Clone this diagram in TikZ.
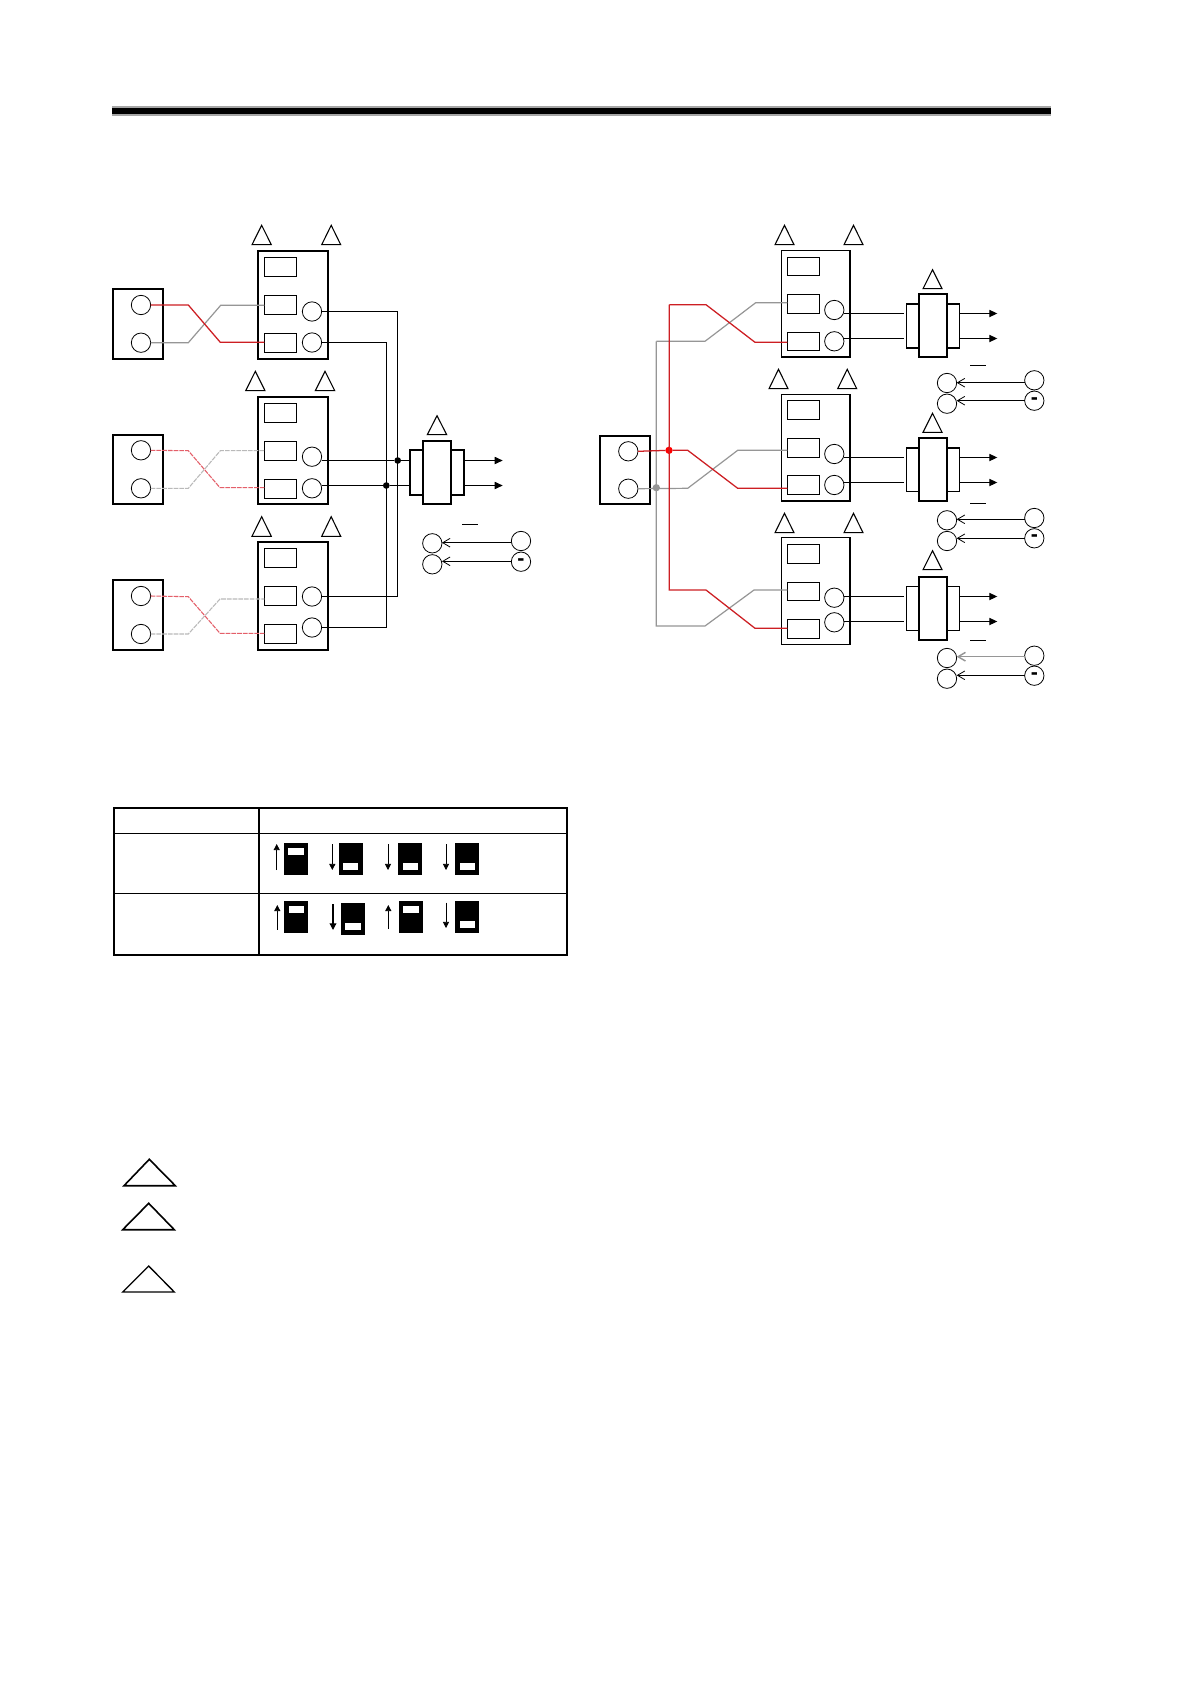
\documentclass[tikz,border=0pt]{standalone}
\usepackage{fontspec}
\setmainfont{Liberation Sans}
\usetikzlibrary{arrows.meta}
\definecolor{wred}{RGB}{205,30,35}
\definecolor{wgray}{RGB}{150,150,150}
\definecolor{dred}{RGB}{228,95,105}
\definecolor{dgray}{RGB}{185,185,185}
\tikzset{
  x=0.75pt,y=-0.75pt,
  boxthick/.style={draw,line width=1.3pt,inner sep=0,outer sep=0,fill=white},
  boxmid/.style={draw,line width=1.15pt,inner sep=0,outer sep=0,fill=white},
  boxthin/.style={draw,line width=0.75pt,inner sep=0,outer sep=0,fill=white},
  swblack/.style={fill=black,inner sep=0,outer sep=0},
  swwhite/.style={fill=white,inner sep=0,outer sep=0},
  term/.style={circle,draw,line width=0.6pt,minimum size=14.5pt,inner sep=0,outer sep=0},
  dotk/.style={circle,fill=black,minimum size=5pt,inner sep=0,outer sep=0},
  dotr/.style={circle,fill=red,minimum size=5.5pt,inner sep=0,outer sep=0},
  dotg/.style={circle,fill=wgray,minimum size=5.5pt,inner sep=0,outer sep=0},
  tria/.style={draw,line width=0.8pt,line join=miter},
  wire/.style={line width=0.8pt},
  redw/.style={wred,line width=0.95pt},
  grayw/.style={wgray,line width=0.9pt},
  dashr/.style={dred,line width=0.8pt,dash pattern=on 3.5pt off 0.8pt},
  dashg/.style={dgray,line width=0.8pt,dash pattern=on 3.5pt off 0.8pt},
  outarrow/.style={wire,-{Triangle[length=6pt,width=5.4pt]}},
  feed/.style={line width=0.6pt,-{Straight Barb[length=5.5pt,width=6.5pt]}},
  swup/.style={line width=0.6pt,-{Triangle[length=4.6pt,width=4.6pt]}},
  swupb/.style={line width=0.9pt,-{Triangle[length=5pt,width=5pt]}},
  minusmark/.style={inner sep=0,outer sep=0,font=\fontsize{16}{16}\selectfont\bfseries},
  tabline/.style={line width=0.75pt},
  tabthick/.style={line width=1.4pt},
}
\newcommand{\ubox}[6]{\node[#6,minimum width={(#4-#2)*0.75pt},minimum height={(#5-#3)*0.75pt}] (#1) at ({(#2+#4)/2},{(#3+#5)/2}) {};}
\newcommand{\ucirc}[3]{\node[term] (#1) at (#2,#3) {};}
\newcommand{\utri}[4]{\draw[tria] (#1,#4) -- ({(#1+#2)/2},#3) -- (#2,#4) -- cycle;}
\newcommand{\uswitch}[9]{%
  \ubox{#1}{#2}{#3}{#4}{#5}{swblack}
  \ubox{#1w}{#6}{#7}{#8}{#9}{swwhite}}
\begin{document}
\begin{tikzpicture}
\useasboundingbox (0,0) rectangle (1190,1684);
\fill[white] (0,0) rectangle (1190,1684);
% top rule
\coordinate (ruleL) at (112,111);
\coordinate (ruleR) at (1051,111);
\draw[line width=7pt,gray!70] (ruleL) -- (ruleR);
\draw[line width=5pt] (ruleL) -- (ruleR);

%% ---------- left diagram ----------
\ubox{S1}{112.7}{289}{163.3}{359}{boxthick}
\ucirc{S1a}{141}{305}\ucirc{S1b}{141}{342.7}
\ubox{S2}{112.7}{435}{163.3}{504.3}{boxthick}
\ucirc{S2a}{141}{450.3}\ucirc{S2b}{141}{488.3}
\ubox{S3}{112.7}{580}{163.3}{650}{boxthick}
\ucirc{S3a}{141}{596}\ucirc{S3b}{141}{634}

\ubox{A}{257.7}{250.7}{328.3}{359}{boxthick}
\ubox{A0}{264.3}{257.3}{296.7}{276.3}{boxthin}
\ubox{A1}{264.3}{295.3}{296.7}{314.3}{boxthin}
\ubox{A2}{264.3}{333.3}{296.7}{352.3}{boxthin}
\ucirc{Ao1}{312}{311.5}\ucirc{Ao2}{312}{342.5}
\utri{252}{271.3}{225.3}{244.7}\utri{321.7}{340.7}{225.3}{244.7}

\ubox{B}{257.7}{396.7}{328.3}{504.3}{boxthick}
\ubox{B0}{264.3}{403.3}{296.7}{422.3}{boxthin}
\ubox{B1}{264.3}{441.3}{296.7}{460.3}{boxthin}
\ubox{B2}{264.3}{479.3}{296.7}{498.3}{boxthin}
\ucirc{Bo1}{312}{456.7}\ucirc{Bo2}{312}{488.3}
\utri{245.7}{265}{371.3}{390.7}\utri{315.3}{334.7}{371.3}{390.7}

\ubox{C}{257.7}{542}{328.3}{650}{boxthick}
\ubox{C0}{264.3}{548.3}{296.7}{567.3}{boxthin}
\ubox{C1}{264.3}{586.3}{296.7}{605.3}{boxthin}
\ubox{C2}{264.3}{624.3}{296.7}{643.3}{boxthin}
\ucirc{Co1}{312}{596.5}\ucirc{Co2}{312}{627.5}
\utri{252}{271.3}{516.7}{536.3}\utri{321.7}{340.7}{516.7}{536.3}

% crossed wires, left
\draw[grayw] (S1b.east) -- (188.3,342.7) -- (220.7,305.3) -- (A1.west |- 0,305.3);
\draw[redw] (S1a.east) -- (188.3,305) -- (220.3,342.3) -- (A2.west |- 0,342.3);
\draw[dashg] (S2b.east) -- (188.3,488.3) -- (220.3,450.7) -- (B1.west |- 0,450.7);
\draw[dashr] (S2a.east) -- (188.3,450.7) -- (220,487.7) -- (B2.west |- 0,487.7);
\draw[dashg] (S3b.east) -- (188.3,634) -- (220,599) -- (C1.west |- 0,599);
\draw[dashr] (S3a.east) -- (188.3,596.7) -- (220,633.3) -- (C2.west |- 0,633.3);

% common transformer, left
\ubox{TLo}{409.7}{450.3}{464.3}{495}{boxthick}
\ubox{TLc}{423}{440.7}{451.3}{504}{boxthick}
\utri{427.3}{446.7}{415.7}{434.7}
\node[dotk] (dA) at (397.7,460.5) {};
\node[dotk] (dB) at (386.3,485.5) {};
\draw[wire] (Ao1.east) -| (397.5,596.5) -- (Co1.east);
\draw[wire] (Ao2.east) -| (386.5,627.5) -- (Co2.east);
\draw[wire] (Bo1.east |- dA) -- (dA) -- (TLo.west |- dA);
\draw[wire] (Bo2.east |- dB) -- (dB) -- (TLo.west |- dB);
\coordinate (TLa1) at (502.7,460.5);
\coordinate (TLa2) at (502.7,485.5);
\draw[outarrow] (TLo.east |- TLa1) -- (TLa1);
\draw[outarrow] (TLo.east |- TLa2) -- (TLa2);
% legend, left
\coordinate (ovL1) at (462.3,524.3);\coordinate (ovL2) at (477.7,524.3);
\draw[line width=0.7pt] (ovL1) -- (ovL2);
\ucirc{Lf1}{432.3}{543.3}\ucirc{Lf2}{432.3}{564.3}
\ucirc{Lp1}{521}{541}\ucirc{Lp2}{521}{561.7}
\draw[feed] (Lp1.west |- 0,542.7) -- (Lf1.east |- 0,542.7);
\draw[feed] (Lp2.west |- 0,561.3) -- (Lf2.east |- 0,561.3);
\node[minusmark] (Lm) at (Lp2) {-};

%% ---------- right diagram ----------
\ubox{S}{599.7}{436}{650.3}{504.3}{boxthick}
\ucirc{Sa}{628.3}{451.3}\ucirc{Sb}{628.3}{488.7}

\ubox{D}{781.7}{250.7}{850}{357}{boxmid}
\ubox{D0}{787.3}{257.3}{819.7}{275.7}{boxthin}
\ubox{D1}{787.3}{294.3}{819.7}{313.3}{boxthin}
\ubox{D2}{787.3}{332.3}{819.7}{350.7}{boxthin}
\ucirc{Do1}{834.3}{310}\ucirc{Do2}{834.3}{341.3}
\utri{775}{794}{225.3}{244.7}\utri{844}{863}{225.3}{244.7}

\ubox{E}{781.7}{394.3}{850}{501}{boxmid}
\ubox{E0}{787.3}{400.3}{819.7}{419.3}{boxthin}
\ubox{E1}{787.3}{438.3}{819.7}{457.3}{boxthin}
\ubox{E2}{787.3}{475.7}{819.7}{494.3}{boxthin}
\ucirc{Eo1}{834.3}{454}\ucirc{Eo2}{834.3}{485}
\utri{769}{788}{369.3}{388.7}\utri{837.7}{856.7}{369.3}{388.7}

\ubox{F}{781.7}{537.7}{850}{644.3}{boxmid}
\ubox{F0}{787.3}{544.3}{819.7}{563.3}{boxthin}
\ubox{F1}{787.3}{582.3}{819.7}{600.7}{boxthin}
\ubox{F2}{787.3}{619.3}{819.7}{638.3}{boxthin}
\ucirc{Fo1}{834.3}{597.7}\ucirc{Fo2}{834.3}{622.3}
\utri{775}{794}{513.3}{532.7}\utri{844}{863}{513.3}{532.7}

% distribution wires, right
\node[dotg] (dG) at (656.3,487.7) {};
\draw[grayw] (656.3,341.3) -- (705,341.3) -- (755.7,302.7) -- (D1.west |- 0,302.7);
\draw[grayw] (656.3,341.3) -- (656.3,626) -- (705,626) -- (754,590) -- (F1.west |- 0,590);
\draw[grayw] (Sb.east) -- (687.7,488.3) -- (737.7,450.3) -- (E1.west |- 0,450.3);
\node[dotr] (dR) at (669,450.3) {};
\draw[redw] (669.3,304.7) -- (706,304.7) -- (755,342.3) -- (D2.west |- 0,342.3);
\draw[redw] (669.3,304.7) -- (669.3,590) -- (706,590) -- (755,628.3) -- (F2.west |- 0,628.3);
\draw[redw] (Sa.east) -- (dR) -- (687.7,450.3) -- (737.7,488.3) -- (E2.west |- 0,488.3);

% transformers, right
\ubox{T1o}{906.3}{304}{959.3}{348}{boxmid}
\ubox{T1c}{918.7}{294.3}{947.3}{357}{boxthick}
\utri{923}{942}{269.7}{288.7}
\ubox{T2o}{906.3}{448}{959.3}{491.7}{boxmid}
\ubox{T2c}{918.7}{438}{947.3}{501}{boxthick}
\utri{923}{942}{413.3}{432.3}
\ubox{T3o}{906.3}{586.7}{959.3}{630.3}{boxmid}
\ubox{T3c}{918.7}{576.7}{947.3}{640}{boxthick}
\utri{923}{942}{550.7}{569.7}

\coordinate (W11) at (904,313.5);\coordinate (W12) at (904,338.5);
\coordinate (W21) at (904,457.5);\coordinate (W22) at (904,482.5);
\coordinate (W31) at (904,596.5);\coordinate (W32) at (904,621.5);
\draw[wire] (Do1.east |- W11) -- (W11);
\draw[wire] (Do2.east |- W12) -- (W12);
\draw[wire] (Eo1.east |- W21) -- (W21);
\draw[wire] (Eo2.east |- W22) -- (W22);
\draw[wire] (Fo1.east |- W31) -- (W31);
\draw[wire] (Fo2.east |- W32) -- (W32);
\coordinate (V11) at (997.3,313.5);\coordinate (V12) at (997.3,338.5);
\coordinate (V21) at (997.3,457.5);\coordinate (V22) at (997.3,482.5);
\coordinate (V31) at (997.3,596.5);\coordinate (V32) at (997.3,621.5);
\draw[outarrow] (T1o.east |- V11) -- (V11);
\draw[outarrow] (T1o.east |- V12) -- (V12);
\draw[outarrow] (T2o.east |- V21) -- (V21);
\draw[outarrow] (T2o.east |- V22) -- (V22);
\draw[outarrow] (T3o.east |- V31) -- (V31);
\draw[outarrow] (T3o.east |- V32) -- (V32);

% legends, right
\coordinate (ov1a) at (970.3,365);\coordinate (ov1b) at (986,365);
\draw[line width=0.7pt] (ov1a) -- (ov1b);
\ucirc{G1}{947}{383}\ucirc{G2}{947}{403.7}
\ucirc{H1}{1034.3}{380.3}\ucirc{H2}{1034.3}{400.7}
\draw[feed] (H1.west |- 0,382.7) -- (G1.east |- 0,382.7);
\draw[feed] (H2.west |- 0,400.7) -- (G2.east |- 0,400.7);
\node[minusmark] (Hm) at (H2) {-};

\coordinate (ov2a) at (970.3,503.5);\coordinate (ov2b) at (986,503.5);
\draw[line width=0.7pt] (ov2a) -- (ov2b);
\ucirc{I1}{947}{520.3}\ucirc{I2}{947}{541}
\ucirc{J1}{1034.3}{518}\ucirc{J2}{1034.3}{538.3}
\draw[feed] (J1.west |- 0,519.3) -- (I1.east |- 0,519.3);
\draw[feed] (J2.west |- 0,538.3) -- (I2.east |- 0,538.3);
\node[minusmark] (Jm) at (J2) {-};

\coordinate (ov3a) at (970.3,640.3);\coordinate (ov3b) at (986,640.3);
\draw[line width=0.7pt] (ov3a) -- (ov3b);
\ucirc{K1}{947}{658}\ucirc{K2}{947}{678.7}
\ucirc{M1}{1034.3}{655.7}\ucirc{M2}{1034.3}{675.7}
\draw[feed,line width=1.1pt,draw=wgray] (M1.west |- 0,656.7) -- (K1.east |- 0,656.7);
\draw[feed] (M2.west |- 0,675.3) -- (K2.east |- 0,675.3);
\node[minusmark] (Mm) at (M2) {-};

%% ---------- table ----------
\node[draw,tabthick,inner sep=0,outer sep=0,minimum width={453*0.75pt},minimum height={147*0.75pt}] (tab) at (340.2,881.5) {};
\draw[tabthick] (259,808) -- (259,955);
\draw[tabline] (113.7,833.3) -- (566.7,833.3);
\draw[tabline] (113.7,893.3) -- (566.7,893.3);

\uswitch{s11}{284}{843}{308}{875}{288}{847.7}{304}{855}
\uswitch{s12}{339}{843}{363}{875}{343}{863}{358.3}{870.3}
\uswitch{s13}{398}{843}{422}{875}{402.7}{863}{418}{870.3}
\uswitch{s14}{455}{843}{479}{875}{460}{863}{475}{870.3}
\uswitch{s21}{284}{901}{308}{933}{289}{905.7}{304}{913.3}
\uswitch{s22}{341}{903}{365}{935}{345}{923}{361}{930}
\uswitch{s23}{399}{901}{423}{933}{403}{905.7}{419}{913}
\uswitch{s24}{455}{901}{479}{933}{460}{921}{475}{928.3}
\draw[swup] (276.7,870) -- (276.7,844);
\draw[swup] (332.3,844) -- (332.3,870);
\draw[swup] (388,844) -- (388,870);
\draw[swup] (446,844) -- (446,870);
\draw[swup] (277.3,929.7) -- (277.3,905);
\draw[swupb] (333,904) -- (333,930);
\draw[swup] (388.3,929) -- (388.3,905);
\draw[swup] (446,902.7) -- (446,928);

%% ---------- bottom triangles ----------
\draw[tria,line width=1.2pt] (124,1185.7) -- (149.3,1159.3) -- (175.3,1185.7) -- cycle;
\draw[tria,line width=1.2pt] (122.7,1229.7) -- (148.7,1203.3) -- (174.3,1229.7) -- cycle;
\draw[tria,line width=1pt] (122.7,1292) -- (148.7,1266) -- (174.3,1292) -- cycle;
\end{tikzpicture}
\end{document}
